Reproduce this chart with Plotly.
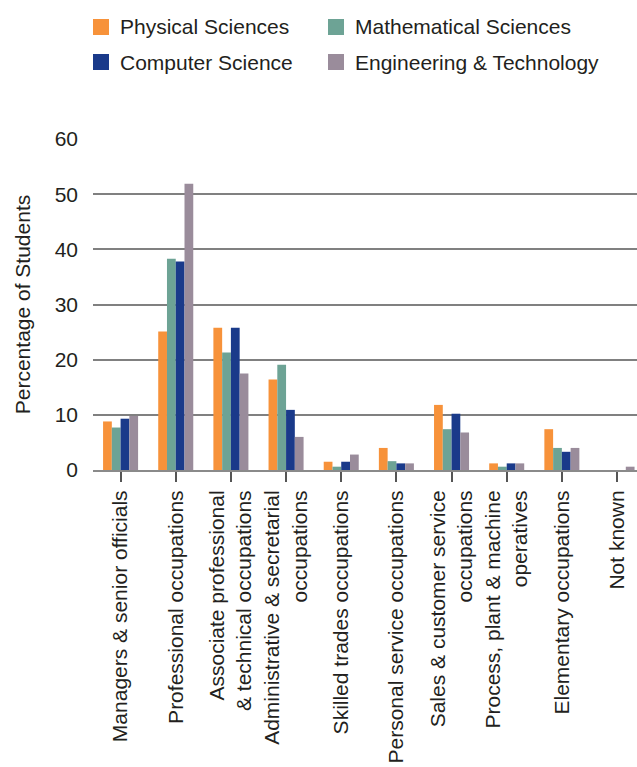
import plotly.graph_objects as go

# Occupation categories (x-axis tick labels)
categories = [
    "Managers & senior officials",
    "Professional occupations",
    "Associate professional<br>& technical occupations",
    "Administrative & secretarial<br>occupations",
    "Skilled trades occupations",
    "Personal service occupations",
    "Sales & customer service<br>occupations",
    "Process, plant & machine<br>operatives",
    "Elementary occupations",
    "Not known",
]

# Percentage of students per subject area
physical_sciences = [8.8, 25.1, 25.8, 16.4, 1.5, 4.0, 11.8, 1.2, 7.4, 0.0]
mathematical_sciences = [7.7, 38.3, 21.3, 19.1, 0.6, 1.6, 7.4, 0.6, 4.0, 0.0]
computer_science = [9.3, 37.8, 25.8, 10.9, 1.5, 1.2, 10.2, 1.2, 3.3, 0.0]
engineering_technology = [9.8, 51.9, 17.5, 6.0, 2.8, 1.2, 6.8, 1.2, 4.0, 0.6]

series_names = ["Physical Sciences", "Mathematical Sciences",
                "Computer Science", "Engineering & Technology"]
series_values = [physical_sciences, mathematical_sciences,
                 computer_science, engineering_technology]
colors = ["#F7923A", "#6DA395", "#1A3A8A", "#9A8C9B"]

W, H = 637, 767
ML, MT, MB, MR = 93, 139, 297, 0
PW, PH = W - ML - MR, H - MT - MB

FONT = "Liberation Sans, Arial, sans-serif"
TEXT = "#231F20"

fig = go.Figure()
for name, vals, col in zip(series_names, series_values, colors):
    fig.add_trace(go.Bar(x=list(range(len(categories))), y=vals, name=name,
                         marker=dict(color=col, line=dict(width=0)),
                         showlegend=False))


def px_x(px):
    return (px - ML) / PW


def px_y(py):
    return (H - MB - py) / PH


# Two-by-two legend drawn as squares with text labels
legend_pos = [(93, 27), (328, 27), (93, 62), (328, 62)]
shapes = []
annotations = []
for (lx, ly), name, col in zip(legend_pos, series_names, colors):
    shapes.append(dict(type="rect", xref="paper", yref="paper",
                       x0=px_x(lx), x1=px_x(lx + 16),
                       y0=px_y(ly - 8), y1=px_y(ly + 8),
                       fillcolor=col, line=dict(width=0)))
    annotations.append(dict(xref="paper", yref="paper", x=px_x(lx + 25),
                            y=px_y(ly), xanchor="left", yanchor="middle",
                            text=name, showarrow=False,
                            font=dict(family=FONT, size=21, color=TEXT)))

fig.update_layout(
    width=W, height=H,
    margin=dict(l=ML, r=MR, t=MT, b=MB, pad=0),
    paper_bgcolor="white", plot_bgcolor="white",
    barmode="group", bargap=0.365, bargroupgap=0,
    font=dict(family=FONT, size=21, color=TEXT),
    shapes=shapes, annotations=annotations,
    xaxis=dict(
        range=[-0.5, 9.362],
        tickmode="array",
        tickvals=list(range(len(categories))),
        ticktext=categories,
        tickangle=-90,
        tickson="boundaries",
        ticks="outside", ticklen=10, tickwidth=1.5, tickcolor="#555",
        showline=True, linecolor="#8a8a8a", linewidth=2,
        showgrid=False, zeroline=False,
        tickfont=dict(family=FONT, size=21, color=TEXT),
        automargin=False,
    ),
    yaxis=dict(
        range=[0, 60], dtick=10,
        showgrid=True, gridcolor="#808080", gridwidth=2,
        zeroline=False, showline=False, ticks="",
        ticklabelstandoff=14,
        tickfont=dict(family=FONT, size=21, color=TEXT),
        title=dict(text="Percentage of Students", standoff=18,
                   font=dict(family=FONT, size=21, color=TEXT)),
        automargin=False,
    ),
)

fig.write_html("out.html")
